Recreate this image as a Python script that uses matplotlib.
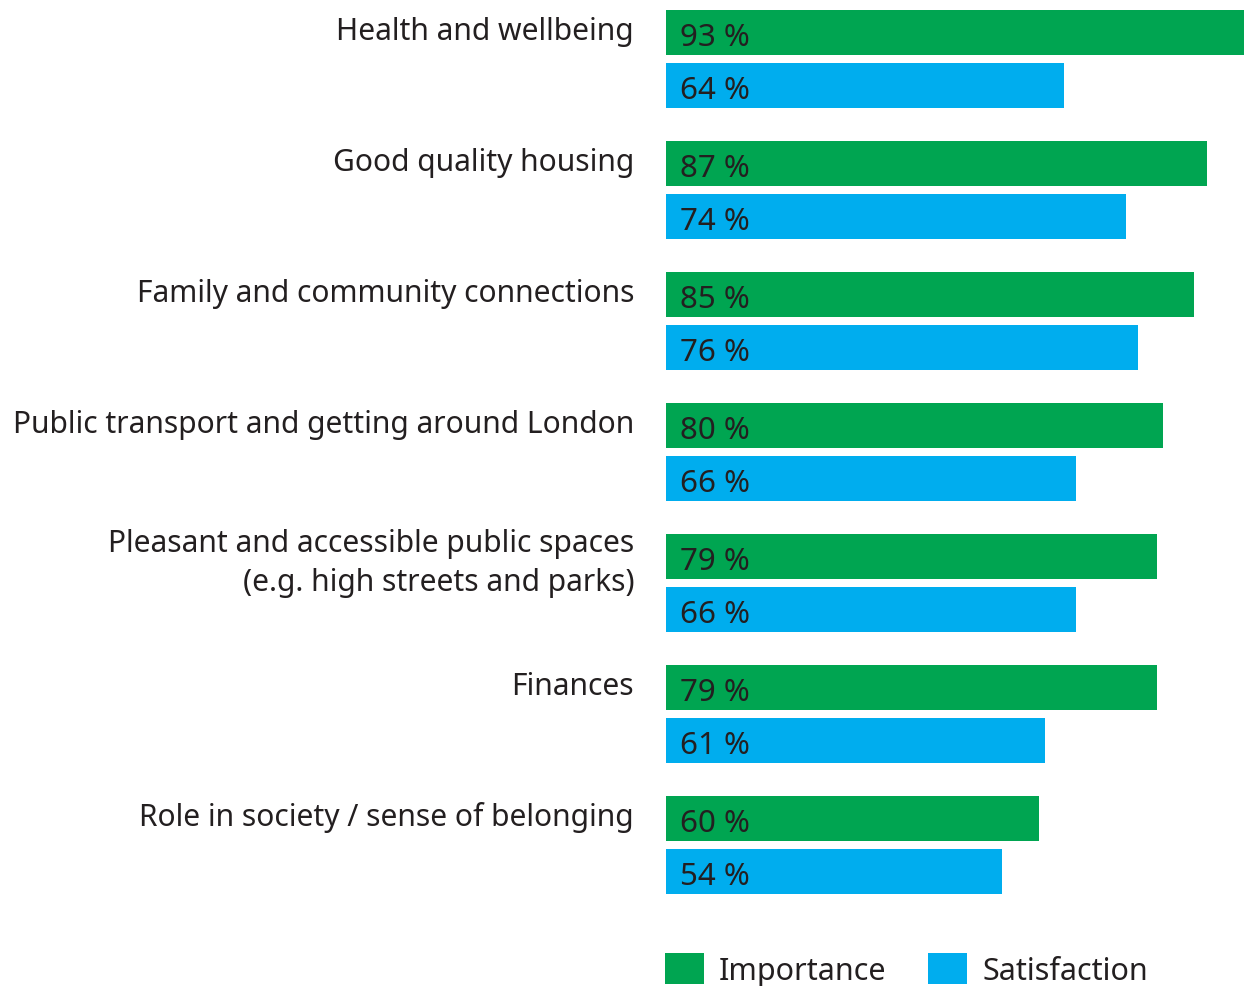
import matplotlib.pyplot as plt
import numpy as np

categories = [
    "Health and wellbeing",
    "Good quality housing",
    "Family and community connections",
    "Public transport and getting around London",
    "Pleasant and accessible public spaces\n(e.g. high streets and parks)",
    "Finances",
    "Role in society / sense of belonging",
]
importance = [93, 87, 85, 80, 79, 79, 60]
satisfaction = [64, 74, 76, 66, 66, 61, 54]

green = "#00A551"
blue = "#00ADEE"
ink = "#231F20"

plt.rcParams['font.family'] = ['Noto Sans', 'DejaVu Sans']

W, H = 1244, 987
fig = plt.figure(figsize=(W / 100, H / 100), dpi=100)
left = 666 / W
ax = fig.add_axes([left, 0, 1 - left, 1])

# group spacing is one unit; green bar on the group line, blue below it
y = np.arange(len(categories))
gap = 0.405
bh = 0.345
ax.barh(y, importance, height=bh, color=green, label="Importance")
ax.barh(y + gap, satisfaction, height=bh, color=blue, label="Satisfaction")

for i in range(len(categories)):
    ax.annotate(f"{importance[i]} %", (0, y[i]), xytext=(10, -3),
                textcoords="offset points", va="center", ha="left",
                fontsize=22.5, color=ink)
    ax.annotate(f"{satisfaction[i]} %", (0, y[i] + gap), xytext=(10, -3),
                textcoords="offset points", va="center", ha="left",
                fontsize=22.5, color=ink)
    # baseline of the last line sits below the green bar centre
    nlines = categories[i].count("\n") + 1
    dy = -(6.5 + 27 * (nlines - 1)) * 0.72
    ax.annotate(categories[i], (0, y[i]), xytext=(-23, dy),
                textcoords="offset points", va="baseline", ha="right",
                fontsize=21.6, color=ink, linespacing=1.4,
                annotation_clip=False)

ax.set_xlim(0, 93)
ax.set_ylim(7.279, -0.256)
ax.axis("off")

ax.legend(loc="lower left", bbox_to_anchor=(665 / W, 0), bbox_transform=fig.transFigure,
          ncol=2, frameon=False, fontsize=22, handlelength=1.27, handleheight=1.2,
          handletextpad=0.5, columnspacing=1.37, borderpad=0, borderaxespad=0,
          labelcolor=ink)

fig.savefig("out.png", dpi=100)
